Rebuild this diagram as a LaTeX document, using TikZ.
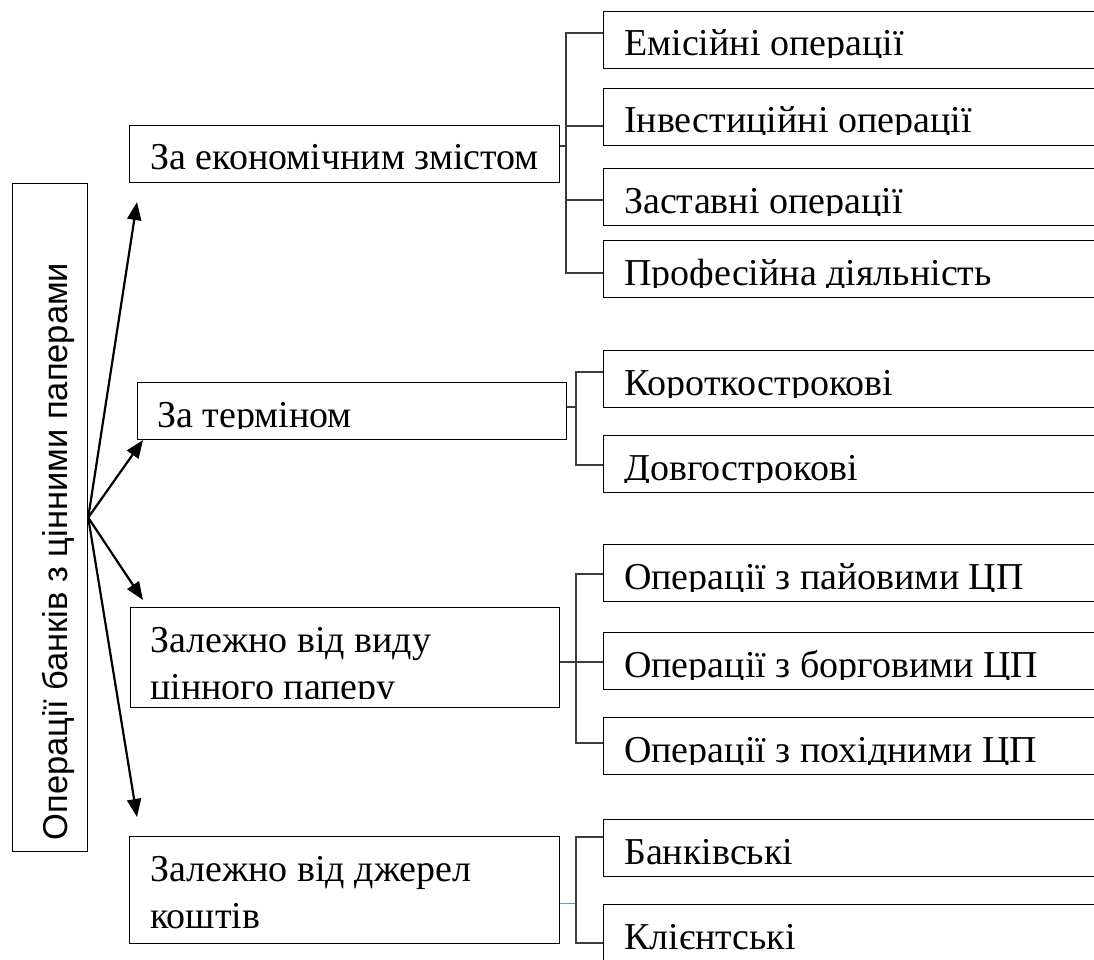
\documentclass[tikz,border=0pt]{standalone}
\usepackage{fontspec}
\setmainfont{Liberation Serif}
\newfontfamily\leftsans{Liberation Sans}
\usetikzlibrary{arrows.meta}
\definecolor{lineblue}{RGB}{91,155,213}
\definecolor{conngray}{RGB}{60,60,60}
\tikzset{
  box/.style={draw=black, line width=1.2pt, rectangle, inner sep=0pt, anchor=north west},
  txt/.style={anchor=base west, inner sep=0pt, font=\fontsize{38}{47}\selectfont},
  conn/.style={draw=conngray, line width=1.2pt},
  arr/.style={draw=black, line width=2.2pt, -{Triangle[length=18pt,width=14pt]}}
}
\newcommand\boxtext[5]{%
  \begin{scope}
    \clip (#2-3,#3) rectangle (1094,#4);
    \node[txt] (#1) at (#2,#3+45) {#5};
  \end{scope}}
\newcommand\boxtextii[6]{%
  \begin{scope}
    \clip (#2-3,#3) rectangle (1094,#4);
    \node[txt] (#1) at (#2,#3+45) {#5};
    \node[txt] (#1b) at (#2,#3+92) {#6};
  \end{scope}}
\begin{document}
\begin{tikzpicture}[x=1pt,y=-1pt]
\useasboundingbox (0,0) rectangle (1094,960);
\fill[white] (0,0) rectangle (1094,960);
\clip (0,0) rectangle (1094,960);

% left box
\node[box, minimum width=75pt, minimum height=668pt] (left) at (12,183) {};
\node[rotate=90, anchor=base, inner sep=0pt, font=\leftsans\fontsize{34.5}{40}\selectfont] (lefttext) at (67,551.5) {Операції банків з цінними паперами};

% category boxes
\node[box, minimum width=430pt, minimum height=57pt] (b1) at (129,125) {};
\node[box, minimum width=429pt, minimum height=57pt] (b2) at (137,382) {};
\node[box, minimum width=429pt, minimum height=100pt] (b3) at (130,607) {};
\node[box, minimum width=430pt, minimum height=107pt] (b4) at (129,836) {};
\boxtext{tb1}{150}{125}{172}{За економічним змістом}
\boxtext{tb2}{157}{382}{428}{За терміном}
\boxtextii{tb3}{150}{607}{698}{Залежно від виду}{цінного паперу}
\boxtextii{tb4}{150}{836}{933}{Залежно від джерел}{коштів}

% right boxes
\foreach \n/\t in {r1/11, r2/88, r3/168, r4/240, r5/350, r6/435, r7/544, r8/632, r9/717, r10/819, r11/904}{
  \node[box, minimum width=510pt, minimum height=57pt] (\n) at (603,\t) {};
}
\boxtext{tr1}{624}{11}{58}{Емісійні операції}
\boxtext{tr2}{624}{88}{135}{Інвестиційні операції}
\boxtext{tr3}{624}{168}{215}{Заставні операції}
\boxtext{tr4}{624}{240}{287}{Професійна діяльність}
\boxtext{tr5}{624}{350}{397}{Короткострокові}
\boxtext{tr6}{624}{435}{482}{Довгострокові}
\boxtext{tr7}{624}{544}{591}{Операції з пайовими ЦП}
\boxtext{tr8}{624}{632}{679}{Операції з борговими ЦП}
\boxtext{tr9}{624}{717}{764}{Операції з похідними ЦП}
\boxtext{tr10}{624}{819}{866}{Банківські}
\boxtext{tr11}{624}{904}{951}{Клієнтські}

% arrows
\coordinate (a1) at (137,202);
\coordinate (a2) at (143,440);
\coordinate (a3) at (143,600);
\coordinate (a4) at (137,817);
\foreach \a in {a1,a2,a3,a4}{ \draw[arr] (left.east) -- (\a); }

% connectors group 1
\coordinate (j1) at (566,146);
\draw[conn] (b1.east|-j1) -- (j1);
\draw[conn] (r1.west|-0,33) -| (j1) |- (r4.west|-0,273);
\draw[conn] (j1|-0,126) -- (r2.west|-0,126);
\draw[conn] (j1|-0,200) -- (r3.west|-0,200);

% group 2
\coordinate (j2) at (576,407);
\draw[conn] (b2.east|-j2) -- (j2);
\draw[conn] (r5.west|-0,372) -| (j2) |- (r6.west|-0,465);

% group 3
\coordinate (j3) at (576,662);
\draw[conn] (b3.east|-j3) -- (r8.west|-j3);
\draw[conn] (r7.west|-0,574) -| (j3) |- (r9.west|-0,743);

% group 4
\coordinate (j4) at (576,903);
\draw[conn, draw=lineblue, line width=1pt] (b4.east|-j4) -- (j4);
\draw[conn] (r10.west|-0,837) -| (j4) |- (r11.west|-0,943);
\end{tikzpicture}
\end{document}
